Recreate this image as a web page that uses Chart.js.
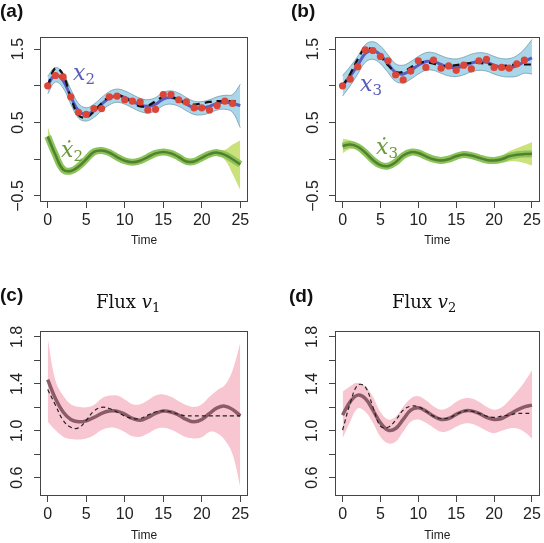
<!DOCTYPE html>
<html><head><meta charset="utf-8">
<script src="https://cdn.jsdelivr.net/npm/chart.js@4.4.1/dist/chart.umd.min.js"></script>
<style>
body{margin:0;background:#fff;width:544px;height:543px;overflow:hidden;position:relative}
.pn{position:absolute}
svg{position:absolute;left:0;top:0;pointer-events:none}
</style></head><body>
<div class="pn" style="left:0;top:0"><canvas id="ca" width="272" height="262"></canvas></div>
<div class="pn" style="left:272px;top:0"><canvas id="cb" width="272" height="262"></canvas></div>
<div class="pn" style="left:0;top:270px"><canvas id="cc" width="272" height="273"></canvas></div>
<div class="pn" style="left:272px;top:270px"><canvas id="cd" width="272" height="273"></canvas></div>
<svg width="544" height="543" xmlns="http://www.w3.org/2000/svg">
  <g font-family="Liberation Sans, Arial, sans-serif" font-weight="bold" font-size="19" fill="#111">
    <text x="0" y="17">(a)</text>
    <text x="291" y="17">(b)</text>
    <text x="0" y="301">(c)</text>
    <text x="289" y="302">(d)</text>
  </g>
  <g font-family="DejaVu Serif, serif" font-size="18" fill="#111">
    <text x="96" y="308">Flux <tspan font-style="italic">v</tspan><tspan font-size="13" dy="4">1</tspan></text>
    <text x="392" y="308">Flux <tspan font-style="italic">v</tspan><tspan font-size="13" dy="4">2</tspan></text>
  </g>
  <g font-family="DejaVu Serif, serif" font-size="22" font-style="italic">
    <text x="73" y="80" fill="#5a5db8">x<tspan font-style="normal" font-size="15" dy="4">2</tspan></text>
    <text x="61" y="157" fill="#6a9a3a">ẋ<tspan font-style="normal" font-size="15" dy="4">2</tspan></text>
    <text x="360" y="91" fill="#5a5db8">x<tspan font-style="normal" font-size="15" dy="4">3</tspan></text>
    <text x="376" y="154" fill="#6a9a3a">ẋ<tspan font-style="normal" font-size="15" dy="4">3</tspan></text>
  </g>
</svg>
<script>
// ---------- data ----------
const time = [0,1,2,3,4,5,6,7,8,9,10,11,12,13,14,15,16,17,18,19,20,21,22,23,24,25];
const obsTime = [0,1,2,3,4,5,6,7,8,9,10,11,12,13,14,15,16,17,18,19,20,21,22,23,24];
const xTicks = [0,5,10,15,20,25];
const abYTicks = [-0.5,0,0.5,1,1.5];
const abYLabels = ['\u22120.5','','0.5','','1.5'];
const cdYTicks = [0.6,0.8,1.0,1.2,1.4,1.6,1.8];
const cdYLabels = ['0.6','','1.0','','1.4','','1.8'];

// panel (a): x2
const aObs  = [1.00,1.14,1.12,0.85,0.64,0.61,0.69,0.69,0.85,0.86,0.81,0.79,0.78,0.67,0.68,0.88,0.88,0.81,0.78,0.70,0.70,0.67,0.73,0.79,0.76];
const aMean = [1.01,1.15,1.07,0.85,0.66,0.61,0.66,0.75,0.83,0.865,0.84,0.79,0.74,0.72,0.75,0.82,0.84,0.81,0.75,0.70,0.695,0.72,0.76,0.775,0.76,0.73];
const aTrue = [1.00,1.24,1.15,0.84,0.60,0.57,0.65,0.76,0.85,0.875,0.84,0.77,0.72,0.73,0.79,0.85,0.85,0.81,0.76,0.745,0.76,0.78,0.79,0.79,0.79,0.79];
const aHi   = [1.13,1.25,1.17,0.95,0.76,0.70,0.75,0.84,0.92,0.955,0.93,0.88,0.83,0.81,0.84,0.91,0.93,0.90,0.84,0.79,0.785,0.81,0.85,0.87,0.88,1.02];
const aLo   = [0.89,1.05,0.97,0.75,0.56,0.52,0.57,0.66,0.74,0.775,0.75,0.70,0.65,0.63,0.66,0.73,0.75,0.72,0.66,0.61,0.605,0.63,0.67,0.68,0.64,0.43];
const aD    = [0.31,0.06,-0.14,-0.16,-0.10,0.00,0.10,0.12,0.09,0.03,-0.02,-0.04,-0.02,0.03,0.08,0.10,0.08,0.03,-0.03,-0.03,0.02,0.07,0.09,0.06,0.00,-0.07];
const aDHi  = [0.45,0.12,-0.10,-0.12,-0.06,0.04,0.14,0.16,0.13,0.07,0.02,0.00,0.02,0.07,0.12,0.14,0.12,0.07,0.01,0.01,0.06,0.11,0.13,0.13,0.20,0.26];
const aDLo  = [0.20,0.00,-0.18,-0.20,-0.14,-0.04,0.06,0.08,0.05,-0.01,-0.06,-0.08,-0.06,-0.01,0.04,0.06,0.04,-0.01,-0.07,-0.07,-0.02,0.03,0.05,-0.01,-0.20,-0.42];

// panel (b): x3
const bObs  = [1.00,1.09,1.26,1.49,1.48,1.40,1.34,1.15,1.08,1.20,1.34,1.25,1.35,1.24,1.27,1.21,1.28,1.23,1.34,1.36,1.25,1.25,1.24,1.30,1.35];
const bMean = [1.00,1.13,1.28,1.44,1.48,1.42,1.30,1.18,1.16,1.21,1.28,1.33,1.33,1.29,1.255,1.245,1.27,1.31,1.33,1.32,1.28,1.25,1.245,1.27,1.33,1.38];
const bTrue = [1.00,1.16,1.36,1.51,1.49,1.40,1.28,1.19,1.19,1.25,1.31,1.32,1.30,1.27,1.27,1.28,1.30,1.31,1.31,1.30,1.28,1.27,1.28,1.29,1.29,1.29];
const bHi   = [1.14,1.26,1.40,1.56,1.60,1.54,1.42,1.30,1.28,1.33,1.40,1.45,1.45,1.41,1.375,1.365,1.39,1.43,1.45,1.44,1.40,1.37,1.37,1.41,1.50,1.63];
const bLo   = [0.86,1.00,1.16,1.32,1.36,1.30,1.18,1.06,1.04,1.09,1.16,1.21,1.21,1.17,1.135,1.125,1.15,1.19,1.21,1.20,1.16,1.13,1.12,1.13,1.17,1.16];
const bD    = [0.18,0.20,0.17,0.09,-0.01,-0.08,-0.094,-0.04,0.05,0.095,0.085,0.04,0.00,-0.017,0.00,0.04,0.065,0.05,0.02,-0.01,-0.017,0.00,0.04,0.06,0.07,0.074];
const bDHi  = [0.28,0.26,0.215,0.13,0.03,-0.04,-0.054,0.00,0.09,0.135,0.125,0.08,0.04,0.023,0.04,0.08,0.105,0.09,0.06,0.03,0.028,0.05,0.11,0.15,0.19,0.234];
const bDLo  = [0.08,0.14,0.125,0.05,-0.05,-0.12,-0.134,-0.08,0.01,0.055,0.045,0.00,-0.04,-0.057,-0.04,0.00,0.025,0.01,-0.02,-0.05,-0.062,-0.05,-0.03,-0.03,-0.05,-0.086];

// panel (c): flux v1
const cMean = [1.437,1.276,1.16,1.097,1.077,1.085,1.114,1.148,1.168,1.168,1.142,1.105,1.09,1.114,1.148,1.168,1.16,1.134,1.097,1.077,1.097,1.148,1.196,1.21,1.182,1.128];
const cTrue = [1.352,1.22,1.09,1.03,1.025,1.09,1.168,1.20,1.19,1.16,1.125,1.105,1.105,1.134,1.16,1.17,1.16,1.14,1.128,1.128,1.128,1.128,1.128,1.128,1.128,1.128];
const cHi   = [1.786,1.43,1.30,1.227,1.204,1.20,1.22,1.275,1.30,1.30,1.267,1.227,1.227,1.26,1.30,1.31,1.29,1.253,1.22,1.204,1.227,1.29,1.346,1.39,1.517,1.75];
const cLo   = [1.077,1.006,0.95,0.929,0.926,0.935,0.963,1.006,1.026,1.02,0.99,0.953,0.95,0.977,1.014,1.026,1.01,0.977,0.944,0.935,0.944,0.99,0.98,0.92,0.80,0.52];

// panel (d): flux v2
const dMean = [1.134,1.247,1.304,1.276,1.176,1.068,1.006,1.02,1.097,1.176,1.196,1.168,1.125,1.097,1.105,1.14,1.168,1.17,1.148,1.114,1.097,1.105,1.14,1.176,1.204,1.219];
const dTrue = [1.006,1.233,1.389,1.375,1.204,1.04,1.03,1.09,1.176,1.21,1.205,1.168,1.125,1.105,1.11,1.14,1.168,1.168,1.148,1.125,1.114,1.125,1.134,1.148,1.148,1.148];
const dHi   = [1.332,1.38,1.41,1.38,1.29,1.16,1.097,1.12,1.204,1.276,1.295,1.26,1.21,1.18,1.2,1.247,1.276,1.276,1.247,1.204,1.18,1.2,1.26,1.332,1.417,1.517];
const dLo   = [0.935,1.077,1.19,1.162,1.068,0.949,0.893,0.907,0.991,1.077,1.097,1.068,1.026,0.991,1.0,1.034,1.06,1.06,1.034,1.0,0.98,1.0,1.02,1.02,0.99,0.935];

// ---------- helpers ----------
Chart.defaults.font.family = "'Liberation Sans', Arial, Helvetica, sans-serif";
Chart.defaults.animation = false;
const pts = (xs, ys) => xs.map((x, i) => ({x: x, y: ys[i]}));
const line = (ys, st) => Object.assign({data: pts(time, ys), pointRadius: 0, tension: 0.4, fill: false}, st);

const boxPlugin = {
  id: 'rbox',
  afterDraw(chart) {
    const {ctx, chartArea: a} = chart;
    ctx.save();
    ctx.strokeStyle = '#444';
    ctx.lineWidth = 1;
    ctx.strokeRect(Math.round(a.left) + 0.5, Math.round(a.top) + 0.5, Math.round(a.right - a.left) - 1, Math.round(a.bottom - a.top) - 1);
    ctx.restore();
  }
};

function makePanel(id, datasets, o) {
  return new Chart(document.getElementById(id), {
    type: 'line',
    data: {datasets: datasets},
    plugins: [boxPlugin],
    options: {
      responsive: false,
      events: [],
      layout: {padding: {top: o.padTop, right: o.padRight, left: 0, bottom: 0}},
      plugins: {legend: {display: false}, tooltip: {enabled: false}, filler: {drawTime: 'beforeDatasetsDraw'}},
      scales: {
        x: {
          type: 'linear', min: -1, max: 26,
          afterBuildTicks: s => { s.ticks = xTicks.map(v => ({value: v})); },
          afterFit: s => { s.height = o.xh; },
          ticks: {autoSkip: false, maxRotation: 0, padding: 3, color: '#222', font: {size: 16}},
          grid: {display: true, drawOnChartArea: false, drawTicks: true, tickLength: 6, tickColor: '#444'},
          border: {display: false},
          title: {display: true, text: 'Time', color: '#222', font: {size: 12}, padding: {top: 0, bottom: o.titlePad}}
        },
        y: {
          type: 'linear', min: o.yMin, max: o.yMax,
          afterBuildTicks: s => { s.ticks = o.yTicks.map(v => ({value: v})); },
          afterFit: s => { s.width = o.yw; },
          ticks: {autoSkip: false, minRotation: 90, maxRotation: 90, crossAlign: 'center', padding: o.yPad,
                  color: '#222', font: {size: 16}, callback: (v, i) => o.yLabels[i]},
          grid: {display: true, drawOnChartArea: false, drawTicks: true, tickLength: 6, tickColor: '#444'},
          border: {display: false}
        }
      }
    }
  });
}

const BAND_BLUE = '#a9d6e8', BAND_EDGE = '#6e9cb0', MEAN_BLUE = '#5a5ec4';
const G_OUT = '#cbe179', G_IN = '#8cc45c', G_LINE = '#52802d';
const PINK = '#f8c6d0', MAUVE = '#8b5c68';

function statePanel(id, lo, hi, dlo, dhi, d, mean, tru, obs, o) {
  return makePanel(id, [
    line(lo,  {borderColor: BAND_EDGE, borderWidth: 0.8, order: 10}),
    line(hi,  {borderColor: BAND_EDGE, borderWidth: 0.8, fill: 0, backgroundColor: BAND_BLUE, order: 9}),
    line(dlo, {borderColor: 'rgba(0,0,0,0)', borderWidth: 0, order: 8}),
    line(dhi, {borderColor: 'rgba(0,0,0,0)', borderWidth: 0, fill: 2, backgroundColor: G_OUT, order: 7}),
    line(d,   {borderColor: G_IN, borderWidth: 7, order: 6}),
    line(d,   {borderColor: G_LINE, borderWidth: 2.5, order: 5}),
    line(mean,{borderColor: MEAN_BLUE, borderWidth: 3, order: 3}),
    line(tru, {borderColor: '#111', borderWidth: 2.2, borderDash: [7, 5], order: 2}),
    {data: pts(obsTime, obs), showLine: false, pointRadius: 3.6, pointBackgroundColor: '#dc4638', pointBorderWidth: 0, order: 1}
  ], o);
}

function fluxPanel(id, lo, hi, mean, tru, o) {
  return makePanel(id, [
    line(lo,  {borderColor: 'rgba(0,0,0,0)', borderWidth: 0, order: 10}),
    line(hi,  {borderColor: 'rgba(0,0,0,0)', borderWidth: 0, fill: 0, backgroundColor: PINK, order: 9}),
    line(mean,{borderColor: MAUVE, borderWidth: 3.5, order: 3}),
    line(tru, {borderColor: '#222', borderWidth: 1.2, borderDash: [4, 3], order: 2})
  ], o);
}

const abCommon = {yMin: -0.582, yMax: 1.664, yTicks: abYTicks, yLabels: abYLabels, padTop: 37, xh: 60, titlePad: 14};
const cdCommon = {yMin: 0.444, yMax: 1.851, yTicks: cdYTicks, yLabels: cdYLabels, padTop: 61, xh: 47, titlePad: 0};

statePanel('ca', aLo, aHi, aDLo, aDHi, aD, aMean, aTrue, aObs, Object.assign({padRight: 24, yw: 40, yPad: 0}, abCommon));
statePanel('cb', bLo, bHi, bDLo, bDHi, bD, bMean, bTrue, bObs, Object.assign({padRight: 3, yw: 63, yPad: 0}, abCommon));
fluxPanel('cc', cLo, cHi, cMean, cTrue, Object.assign({padRight: 24, yw: 40, yPad: 5}, cdCommon));
fluxPanel('cd', dLo, dHi, dMean, dTrue, Object.assign({padRight: 3, yw: 63, yPad: 5}, cdCommon));
</script>
</body></html>
